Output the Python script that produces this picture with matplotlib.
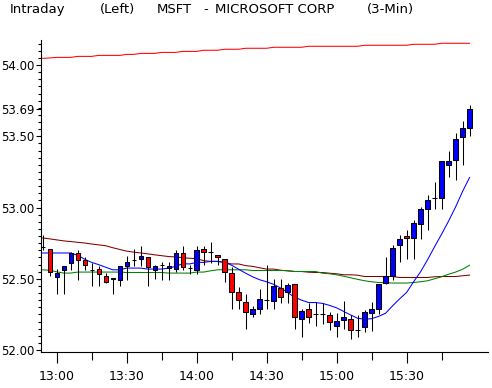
import numpy as np
import pandas as pd
import matplotlib
matplotlib.use("Agg")
import matplotlib.pyplot as plt
from matplotlib.ticker import FixedLocator, MultipleLocator

# 3-minute bars, MSFT intraday (first slot is the clipped bar at the left edge)
times = pd.date_range("12:54", periods=62, freq="3min")

opens = [52.72, 52.71, 52.51, 52.56, 52.61, 52.68, 52.63, 52.56, 52.57, 52.52, 52.495,
         52.49, 52.59, 52.63, 52.64, 52.65, 52.56, 52.60, 52.575, 52.57, 52.68,
         52.575, 52.56, 52.71, 52.69, 52.67, 52.64, 52.54, 52.41, 52.34, 52.25,
         52.29, 52.35, 52.345, 52.435, 52.41, 52.46, 52.22, 52.29, 52.25, 52.25,
         52.245, 52.17, 52.21, 52.22, 52.14, 52.16, 52.26, 52.29, 52.47, 52.52,
         52.735, 52.80, 52.785, 52.885, 52.99, 53.065, 53.065, 53.30, 53.335, 53.495,
         53.555]
highs = [52.81, 52.71, 52.57, 52.59, 52.69, 52.70, 52.65, 52.61, 52.59, 52.54, 52.505,
         52.59, 52.66, 52.71, 52.73, 52.65, 52.60, 52.62, 52.62, 52.70, 52.73,
         52.60, 52.73, 52.73, 52.76, 52.67, 52.64, 52.58, 52.44, 52.39, 52.31,
         52.43, 52.60, 52.50, 52.50, 52.47, 52.46, 52.29, 52.33, 52.34, 52.33,
         52.27, 52.26, 52.345, 52.245, 52.245, 52.28, 52.34, 52.46, 52.65, 52.74,
         52.81, 52.845, 52.91, 53.005, 53.085, 53.18, 53.33, 53.395, 53.525, 53.61,
         53.72]
lows = [52.70, 52.52, 52.39, 52.39, 52.56, 52.49, 52.56, 52.45, 52.45, 52.47, 52.39,
        52.45, 52.49, 52.59, 52.59, 52.45, 52.50, 52.49, 52.49, 52.55, 52.56,
        52.53, 52.53, 52.60, 52.61, 52.60, 52.48, 52.29, 52.29, 52.15, 52.23,
        52.25, 52.29, 52.29, 52.33, 52.33, 52.15, 52.09, 52.19, 52.17, 52.18,
        52.14, 52.09, 52.15, 52.08, 52.09, 52.125, 52.13, 52.25, 52.46, 52.49,
        52.62, 52.64, 52.64, 52.78, 52.845, 52.99, 52.99, 53.215, 53.195, 53.30,
        53.50]
closes = [52.72, 52.55, 52.54, 52.59, 52.68, 52.63, 52.60, 52.56, 52.53, 52.48, 52.505,
          52.59, 52.62, 52.63, 52.66, 52.58, 52.59, 52.60, 52.59, 52.68, 52.58,
          52.575, 52.70, 52.69, 52.69, 52.65, 52.55, 52.41, 52.35, 52.27, 52.29,
          52.36, 52.35, 52.45, 52.37, 52.455, 52.235, 52.275, 52.235, 52.25, 52.25,
          52.195, 52.205, 52.23, 52.14, 52.14, 52.27, 52.29, 52.46, 52.52, 52.715,
          52.78, 52.785, 52.89, 52.99, 53.055, 53.065, 53.325, 53.325, 53.48, 53.56,
          53.69]

# moving averages
ma_red = [54.047, 54.050, 54.054, 54.054, 54.054, 54.061, 54.061, 54.061, 54.068, 54.068,
          54.068, 54.068, 54.075, 54.075, 54.082, 54.082, 54.082, 54.089, 54.089, 54.089,
          54.096, 54.096, 54.096, 54.104, 54.104, 54.104, 54.111, 54.111, 54.111, 54.118,
          54.118, 54.118, 54.118, 54.125, 54.125, 54.125, 54.125, 54.125, 54.132, 54.132,
          54.132, 54.132, 54.132, 54.132, 54.132, 54.132, 54.139, 54.139, 54.139, 54.139,
          54.139, 54.139, 54.139, 54.146, 54.146, 54.146, 54.146, 54.153, 54.153, 54.153,
          54.153, 54.153]
ma_maroon = [52.787, 52.780, 52.773, 52.766, 52.761, 52.756, 52.751, 52.744, 52.738, 52.732,
             52.718, 52.706, 52.694, 52.687, 52.681, 52.675, 52.668, 52.662, 52.656, 52.653,
             52.648, 52.644, 52.641, 52.627, 52.622, 52.622, 52.613, 52.604, 52.604, 52.592,
             52.587, 52.577, 52.568, 52.568, 52.560, 52.555, 52.551, 52.551, 52.546, 52.544,
             52.544, 52.539, 52.535, 52.528, 52.528, 52.525, 52.516, 52.516, 52.516, 52.516,
             52.516, 52.509, 52.509, 52.509, 52.509, 52.509, 52.514, 52.516, 52.516, 52.516,
             52.521, 52.526]
ma_green = [52.563, 52.560, 52.549, 52.540, 52.540, 52.547, 52.547, 52.547, 52.547, 52.547,
            52.547, 52.547, 52.544, 52.544, 52.544, 52.544, 52.544, 52.544, 52.540, 52.540,
            52.540, 52.540, 52.547, 52.547, 52.556, 52.563, 52.563, 52.563, 52.563, 52.563,
            52.558, 52.558, 52.558, 52.558, 52.558, 52.558, 52.551, 52.551, 52.551, 52.551,
            52.539, 52.535, 52.528, 52.518, 52.507, 52.496, 52.486, 52.479, 52.474, 52.472,
            52.470, 52.470, 52.470, 52.474, 52.479, 52.486, 52.500, 52.514, 52.532, 52.547,
            52.567, 52.595]
ma_blue = [52.681, 52.681, 52.681, 52.681, 52.681, 52.665, 52.637, 52.615, 52.599, 52.581,
           52.563, 52.563, 52.575, 52.575, 52.575, 52.568, 52.568, 52.568, 52.575, 52.587,
           52.606, 52.604, 52.615, 52.615, 52.622, 52.622, 52.616, 52.595, 52.567, 52.539,
           52.514, 52.493, 52.479, 52.461, 52.435, 52.404, 52.370, 52.350, 52.333, 52.333,
           52.327, 52.313, 52.296, 52.271, 52.246, 52.223, 52.216, 52.220, 52.236, 52.258,
           52.310, 52.359, 52.404, 52.479, 52.549, 52.634, 52.725, 52.813, 52.905, 53.004,
           53.113, 53.211]

ytick_vals = [52.00, 52.50, 53.00, 53.50, 53.69, 54.00]
xtick_labels = ["13:00", "13:30", "14:00", "14:30", "15:00", "15:30"]

plt.rcParams['font.family'] = ['DejaVu Sans']

W, H = 492, 388
fig = plt.figure(figsize=(W / 100, H / 100), dpi=100)
ax = fig.add_axes([41 / W, 36 / H, 447 / W, 312 / H])

t0 = pd.Timestamp("13:00")
x = np.array([(t - t0).total_seconds() / 60 for t in times])
lw = 0.75

ax.plot(x, ma_red, color="#ff0000", lw=lw, zorder=2)
ax.plot(x, ma_maroon, color="#800000", lw=lw, zorder=2)
ax.plot(x, ma_green, color="#008000", lw=lw, zorder=2)
ax.plot(x, ma_blue, color="#0000ff", lw=lw, zorder=2)

o = np.array(opens)
c = np.array(closes)
ax.vlines(x, lows, highs, color="black", lw=lw, zorder=3)
colors = np.where(c > o, "#0000ff", np.where(c < o, "#ff0000", "black"))
ax.bar(x, np.abs(c - o), bottom=np.minimum(o, c), width=1.85,
       color=colors, edgecolor="black", linewidth=lw, zorder=4)

ax.set_xlim(-6.73, 184.9)
ax.set_ylim(51.986, 54.176)

ax.xaxis.set_major_locator(FixedLocator([0, 30, 60, 90, 120, 150]))
ax.xaxis.set_minor_locator(FixedLocator([15, 45, 75, 105, 135, 165]))
ax.set_xticklabels(xtick_labels)
ax.yaxis.set_major_locator(FixedLocator(ytick_vals))
ax.yaxis.set_minor_locator(MultipleLocator(0.05))
ax.set_yticklabels([f"{v:.2f}" for v in ytick_vals])

ax.tick_params(axis="y", which="major", length=3.5, width=0.8, pad=1, labelsize=8.5)
ax.tick_params(axis="y", which="minor", length=2, width=0.8)
ax.tick_params(axis="x", which="major", length=8, width=0.8, pad=5, labelsize=9)
ax.tick_params(axis="x", which="minor", length=5.5, width=0.8)

for side in ["top", "right"]:
    ax.spines[side].set_visible(False)
for side in ["left", "bottom"]:
    ax.spines[side].set_linewidth(0.8)

ty = 1 - 3 / H
fig.text(10 / W, ty, "Intraday", va="top", fontsize=9.5)
fig.text(100 / W, ty, "(Left)", va="top", fontsize=9.5)
fig.text(157 / W, ty, "MSFT", va="top", fontsize=9.5)
fig.text(203 / W, ty, "-", va="top", fontsize=9.5)
fig.text(215 / W, ty, "MICROSOFT CORP", va="top", fontsize=9.5)
fig.text(367 / W, ty, "(3-Min)", va="top", fontsize=9.5)

fig.savefig("out.png", dpi=100)
